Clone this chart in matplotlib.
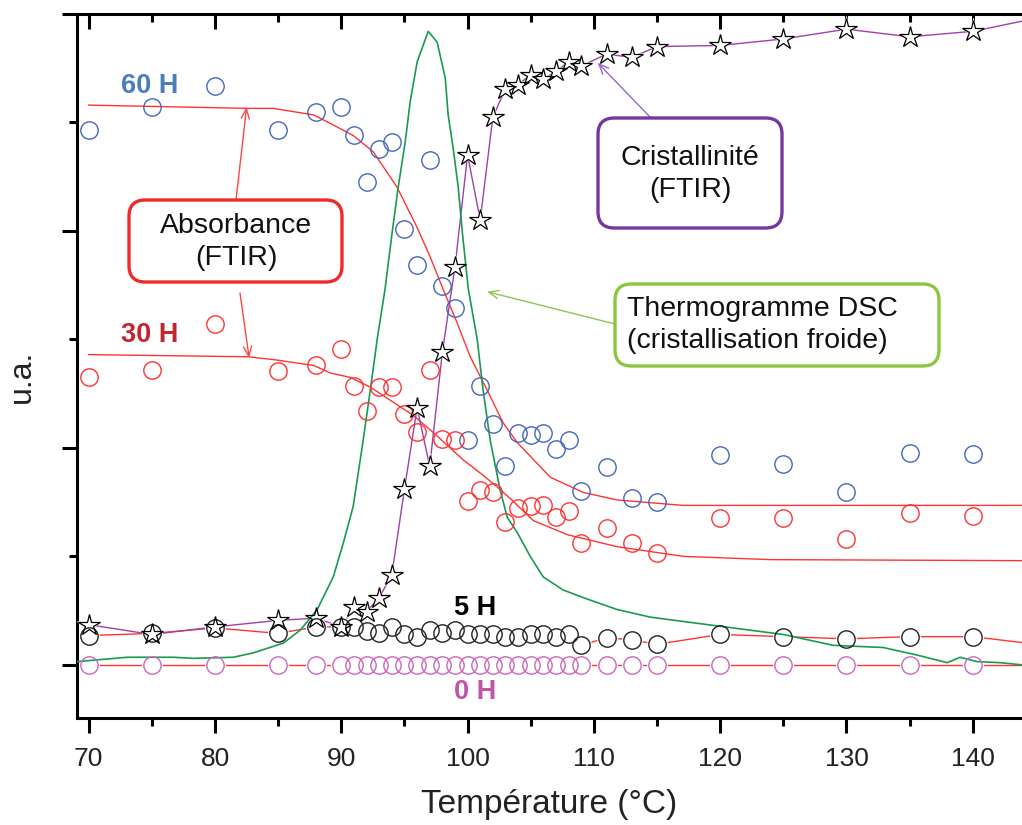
import matplotlib.pyplot as plt
from matplotlib.patches import FancyBboxPatch
from matplotlib.ticker import MultipleLocator, NullFormatter

plt.rcParams['font.family'] = ['Liberation Sans', 'DejaVu Sans']

# temperatures of the FTIR measurements
temp = [70, 75, 80, 85, 88, 90, 91, 92, 93, 94, 95, 96, 97, 98, 99, 100,
        101, 102, 103, 104, 105, 106, 107, 108, 109, 111, 113, 115,
        120, 125, 130, 135, 140]
# same + one point beyond the right edge for the connecting lines
temp_ext = temp + [145]

abs_60h = [4.93, 5.14, 5.34, 4.93, 5.10, 5.14, 4.88, 4.45, 4.76, 4.82, 4.02,
           3.69, 4.65, 3.49, 3.29, 2.07, 2.57, 2.22, 1.83, 2.14, 2.12, 2.14,
           1.99, 2.07, 1.60, 1.82, 1.54, 1.50, 1.93, 1.85, 1.59, 1.95, 1.94]
abs_30h = [2.65, 2.72, 3.14, 2.71, 2.76, 2.91, 2.57, 2.34, 2.56, 2.56, 2.31,
           2.15, 2.72, 2.08, 2.07, 1.51, 1.61, 1.59, 1.32, 1.45, 1.46, 1.47,
           1.36, 1.42, 1.12, 1.26, 1.12, 1.03, 1.35, 1.35, 1.16, 1.40, 1.37]
abs_5h = [0.27, 0.29, 0.34, 0.29, 0.35, 0.35, 0.35, 0.31, 0.29, 0.35, 0.28,
          0.26, 0.32, 0.29, 0.32, 0.28, 0.28, 0.28, 0.26, 0.26, 0.28, 0.28,
          0.26, 0.28, 0.18, 0.25, 0.23, 0.19, 0.28, 0.26, 0.24, 0.26, 0.26, 0.19]
abs_0h = [0.0] * 34
cristal = [0.37, 0.28, 0.35, 0.41, 0.43, 0.35, 0.53, 0.49, 0.62, 0.83, 1.62,
           2.37, 1.83, 2.88, 3.67, 4.70, 4.10, 5.05, 5.31, 5.35, 5.44, 5.40,
           5.47, 5.56, 5.52, 5.63, 5.60, 5.70, 5.71, 5.77, 5.86, 5.79, 5.84, 5.96]

# fitted curves
fit60_x = [70, 82.6, 84.6, 87.8, 89.15, 90.94, 92.53, 94.43, 96.01, 97.04, 98.07,
           99.18, 100.21, 101.56, 102.82, 103.93, 106.54, 109.15, 111.84, 117.07,
           123.0, 145]
fit60_y = [5.16, 5.13, 5.13, 5.07, 4.99, 4.88, 4.73, 4.40, 4.03, 3.76, 3.46,
           3.15, 2.84, 2.53, 2.23, 2.05, 1.73, 1.59, 1.52, 1.47, 1.47, 1.47]
fit30_x = [70, 82.6, 84.9, 87.8, 89.15, 90.7, 92.3, 95.7, 97.3, 99.65, 101.2,
           102.34, 103.5, 105.2, 107.9, 111.8, 117.1, 124, 145]
fit30_y = [2.86, 2.84, 2.81, 2.76, 2.69, 2.65, 2.56, 2.30, 2.14, 1.89, 1.75,
           1.64, 1.52, 1.33, 1.20, 1.09, 1.00, 0.97, 0.96]

# DSC thermogram (cold crystallisation)
dsc_x = [69.09, 73.05, 76.7, 78.27, 81.44, 83.02, 84.6, 85.4, 86.75, 88.09,
         89.36, 90.15, 90.94, 91.73, 92.29, 92.84, 93.47, 94.03, 94.5, 95.06,
         95.45, 96.01, 96.88, 97.59, 98.23, 98.46, 98.86, 99.26, 99.58, 100.05,
         100.76, 101.23, 101.79, 102.58, 103.14, 103.93, 104.96, 105.99, 107.57,
         109.15, 111.84, 114.46, 117.07, 121.03, 124.99, 128.95, 132.91, 135.6,
         137.98, 139.0, 140.35, 142.17, 143.9]
dsc_y = [0.03, 0.07, 0.07, 0.06, 0.07, 0.11, 0.17, 0.20, 0.32, 0.51,
         0.81, 1.12, 1.46, 2.07, 2.53, 3.00, 3.47, 3.99, 4.40, 4.82,
         5.19, 5.56, 5.84, 5.74, 5.41, 5.07, 4.76, 4.40, 3.99, 3.47,
         3.00, 2.53, 2.07, 1.61, 1.36, 1.22, 1.00, 0.81, 0.69,
         0.62, 0.51, 0.44, 0.40, 0.34, 0.28, 0.18, 0.16, 0.09,
         0.02, 0.07, 0.03, 0.02, 0.0]

W, H = 1022, 825
def fx(px):
    return px / W
def fy(py):
    return 1 - py / H

fig = plt.figure(figsize=(W / 100, H / 100), dpi=100)
ax = fig.add_axes([fx(77), fy(718), fx(1022) - fx(77), fy(14) - fy(718)])

red = '#ff3333'
blue = '#4466bb'
pink = '#cc66bb'
purple = '#a040a8'
green = '#1a9a50'

ax.plot(fit60_x, fit60_y, color=red, lw=1.0, zorder=2)
ax.plot(fit30_x, fit30_y, color=red, lw=1.0, zorder=2)
ax.plot(temp_ext, abs_0h, color=red, lw=1.0, zorder=2)
ax.plot(temp_ext, abs_5h, color=red, lw=1.0, zorder=2)
ax.plot(temp_ext, cristal, color=purple, lw=1.0, zorder=2)

# white under-markers to open gaps in connecting lines
ax.plot(temp_ext, abs_0h, 'o', ms=15, mfc='white', mec='none', zorder=3)
ax.plot(temp_ext, abs_5h, 'o', ms=15, mfc='white', mec='none', zorder=3)
ax.plot(temp_ext, cristal, '*', ms=20, mfc='white', mec='none', zorder=3)

ax.plot(dsc_x, dsc_y, color=green, lw=1.2, zorder=3.5)

ax.plot(temp, abs_60h, 'o', ms=12.5, mfc='none', mec=blue, mew=1.0, zorder=4)
ax.plot(temp, abs_30h, 'o', ms=12.5, mfc='none', mec=red, mew=1.0, zorder=4)
ax.plot(temp_ext, abs_0h, 'o', ms=12.5, mfc='none', mec=pink, mew=1.0, zorder=4)
ax.plot(temp_ext, abs_5h, 'o', ms=12.5, mfc='none', mec='#222222', mew=1.0, zorder=4)
ax.plot(temp_ext, cristal, '*', ms=16, mfc='none', mec='black', mew=0.9, zorder=4)

ax.set_xlim(69.07, 143.9)
ax.set_ylim(-0.49, 6.0)

ax.spines['right'].set_visible(False)
ax.spines['top'].set_visible(False)
for s in ['left', 'bottom']:
    ax.spines[s].set_linewidth(2.2)

ax.xaxis.set_major_locator(MultipleLocator(10))
ax.xaxis.set_minor_locator(MultipleLocator(5))
ax.yaxis.set_major_locator(MultipleLocator(2))
ax.yaxis.set_minor_locator(MultipleLocator(1))
ax.yaxis.set_major_formatter(NullFormatter())
ax.tick_params(which='both', direction='out', width=2.2, labelsize=19,
               labelcolor='#222222', pad=10)
ax.tick_params(which='major', length=11)
ax.tick_params(which='minor', length=6)

sec = ax.secondary_xaxis('top')
sec.xaxis.set_major_locator(MultipleLocator(10))
sec.xaxis.set_minor_locator(MultipleLocator(5))
sec.tick_params(which='both', direction='in', width=2.2, labeltop=False)
sec.tick_params(which='major', length=11)
sec.tick_params(which='minor', length=6)
sec.spines['top'].set_linewidth(2.2)

ax.set_xlabel('Température (°C)', fontsize=24, color='#222222', labelpad=13)
fig.text(fx(22), fy(376), 'u.a.', fontsize=23, color='#222222', rotation=90,
         ha='center', va='center')

# series labels
fig.text(fx(150), fy(86), '60 H', fontsize=19.5, fontweight='bold', color='#4a7ebb',
         ha='center', va='center')
fig.text(fx(150), fy(335), '30 H', fontsize=19.5, fontweight='bold', color='#c0282e',
         ha='center', va='center')
fig.text(fx(475), fy(608), '5 H', fontsize=19.5, fontweight='bold', color='black',
         ha='center', va='center')
fig.text(fx(475), fy(692), '0 H', fontsize=19.5, fontweight='bold', color='#c055a8',
         ha='center', va='center')

def box(x0, y0, x1, y1, color, text, cx, cy, align='center'):
    p = FancyBboxPatch((fx(x0), fy(y1)), fx(x1) - fx(x0), fy(y0) - fy(y1),
                       boxstyle='round,pad=0,rounding_size=0.016',
                       mutation_aspect=W / H, transform=fig.transFigure,
                       fc='white', ec=color, lw=2.4, zorder=10)
    fig.add_artist(p)
    fig.text(fx(cx), fy(cy), text, fontsize=20.5, color='#111111', ha='center',
             va='center', linespacing=1.3, multialignment=align, zorder=11)

box(129, 200, 342, 282, '#ee2b2b', 'Absorbance\n(FTIR)', 236, 242)
box(598, 118, 782, 228, '#7538a0', 'Cristallinité\n(FTIR)', 690, 174)
box(615, 284, 939, 366, '#8dc63f', 'Thermogramme DSC\n(cristallisation froide)',
    762, 325, align='left')

def arrow(xy, px, py, color):
    ax.annotate('', xy=xy, xycoords='data', xytext=(fx(px), fy(py)),
                textcoords='figure fraction',
                arrowprops=dict(arrowstyle='->,head_length=0.7,head_width=0.3',
                                color=color, lw=1.0, shrinkA=0, shrinkB=0),
                zorder=9)

arrow((82.5, 5.14), 236, 200, '#ff4444')
arrow((82.7, 2.83), 240, 293, '#ff4444')
arrow((110.3, 5.55), 651, 118, '#9966cc')
arrow((101.55, 3.44), 615, 324, '#8cc850')

fig.savefig('out.png', dpi=100)
